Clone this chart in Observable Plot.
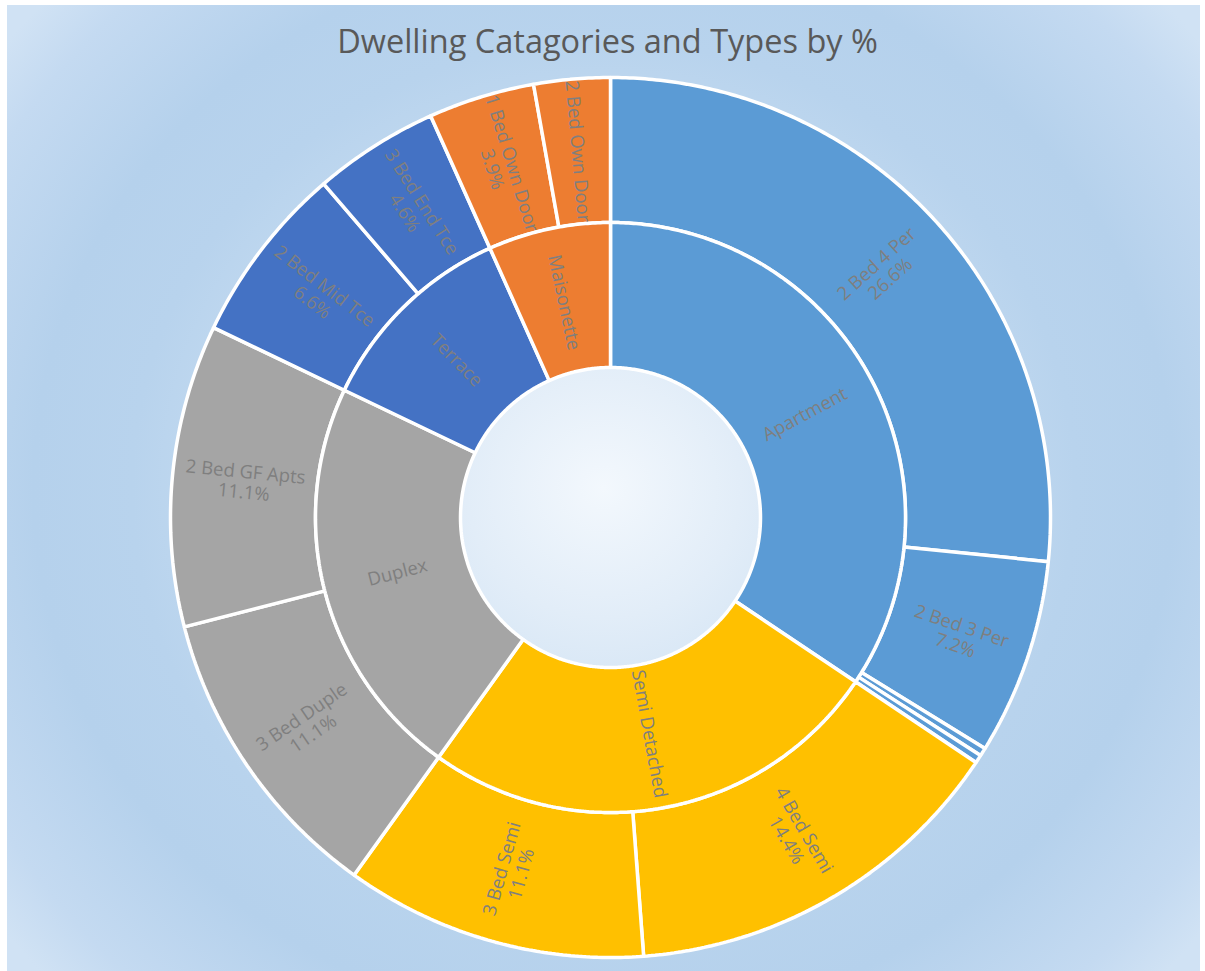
<!DOCTYPE html>
<html>
<head>
<meta charset="utf-8">
<script src="https://cdn.jsdelivr.net/npm/d3@7"></script>
<script src="https://cdn.jsdelivr.net/npm/@observablehq/plot@0.6"></script>
<style>
  html, body { margin: 0; padding: 0; background: #ffffff; }
  #wrap { position: relative; width: 1205px; height: 971px; overflow: hidden; }
  #bg { position: absolute; left: 7px; top: 5px; width: 1193px; height: 966px;
        background: radial-gradient(ellipse 760px 720px at 50% 50%, #f3f8fd 0%, #e2edf8 18%, #c9def2 40%, #b8d3ed 62%, #b5d1ec 75%, #c4daf1 92%, #d0e2f4 100%); }
  #title { position: absolute; left: 0; width: 1215px; top: 21px; text-align: center;
           font-family: "Open Sans", sans-serif; font-size: 32.5px; color: #595959; line-height: 1.2; }
  #chart { position: absolute; left: 0; top: 0; }
</style>
</head>
<body>
<div id="wrap">
  <div id="bg"></div>
  <div id="chart"></div>
  <div id="title">Dwelling Catagories and Types by %</div>
</div>
<script>
// ---- Data ----
const categories = ["Apartment", "Semi Detached", "Duplex", "Terrace", "Maisonette"];
const categoryColors = ["#5B9BD5", "#FFC000", "#A5A5A5", "#4472C4", "#ED7D31"];
const types = ["2 Bed 4 Per", "2 Bed 3 Per", "1 Bed Apt", "3 Bed Apt", "4 Bed Semi", "3 Bed Semi",
               "3 Bed Duple", "2 Bed GF Apts", "2 Bed Mid Tce", "3 Bed End Tce", "1 Bed Own Door", "2 Bed Own Door"];
const typeParent = [0, 0, 0, 0, 1, 1, 2, 2, 3, 3, 4, 4];
const typeValues = [26.6, 7.2, 0.3, 0.3, 14.4, 11.1, 11.1, 11.1, 6.6, 4.6, 3.9, 2.8];
const typeLabelLines = [2, 2, 0, 0, 2, 2, 2, 2, 2, 2, 2, 1]; // 0 = no label, 1 = name only, 2 = name + %

// ---- Layout ----
const R0 = 150, R1 = 295, R2 = 440, LABEL_GRAY = "#7f7f7f";
const total = d3.sum(typeValues);
const toDeg = v => v / total * 360;

function arcPoly(id, a0, a1, r0, r1, color) {
  const pts = [];
  const n = Math.max(2, Math.ceil((a1 - a0) / 0.5));
  for (let i = 0; i <= n; i++) {
    const a = (a0 + (a1 - a0) * i / n) * Math.PI / 180;
    pts.push({id, color, x: r1 * Math.sin(a), y: -r1 * Math.cos(a)});
  }
  for (let i = n; i >= 0; i--) {
    const a = (a0 + (a1 - a0) * i / n) * Math.PI / 180;
    pts.push({id, color, x: r0 * Math.sin(a), y: -r0 * Math.cos(a)});
  }
  pts.push({...pts[0]});
  return pts;
}
function labelAt(a, r, text) {
  const rad = a * Math.PI / 180;
  const rot = a <= 180 ? a - 90 : a - 270;
  return {x: r * Math.sin(rad), y: -r * Math.cos(rad), text, rotate: rot};
}

const polys = [], labels = [];
// outer ring (types)
let acc = 0;
types.forEach((t, i) => {
  const a0 = toDeg(acc), a1 = toDeg(acc + typeValues[i]);
  acc += typeValues[i];
  polys.push(...arcPoly("t" + i, a0, a1, R1, R2, categoryColors[typeParent[i]]));
  if (typeLabelLines[i] > 0) {
    const txt = typeLabelLines[i] === 2 ? t + "\n" + typeValues[i].toFixed(1) + "%" : t;
    labels.push(labelAt((a0 + a1) / 2, (R1 + R2) / 2, txt));
  }
});
// inner ring (categories)
acc = 0;
categories.forEach((c, ci) => {
  const v = d3.sum(typeValues.filter((_, i) => typeParent[i] === ci));
  const a0 = toDeg(acc), a1 = toDeg(acc + v);
  acc += v;
  polys.push(...arcPoly("c" + ci, a0, a1, R0, R1, categoryColors[ci]));
  labels.push(labelAt((a0 + a1) / 2, 220, c));
});

const chart = Plot.plot({
  width: 1205,
  height: 971,
  margin: 0,
  x: {domain: [-610, 595], range: [0, 1205], axis: null},
  y: {domain: [-517, 454], range: [0, 971], axis: null},
  style: {background: "transparent", overflow: "visible"},
  marks: [
    Plot.line(polys, {x: "x", y: "y", z: "id", fill: "color", stroke: "white", strokeWidth: 3.5, strokeLinejoin: "miter", curve: "linear"}),
    Plot.text(labels, {x: "x", y: "y", text: "text", rotate: "rotate", fill: LABEL_GRAY,
      fontSize: 18.5, lineHeight: 1.1, fontFamily: "Open Sans, sans-serif"})
  ]
});
document.getElementById("chart").appendChild(chart);
</script>
</body>
</html>
